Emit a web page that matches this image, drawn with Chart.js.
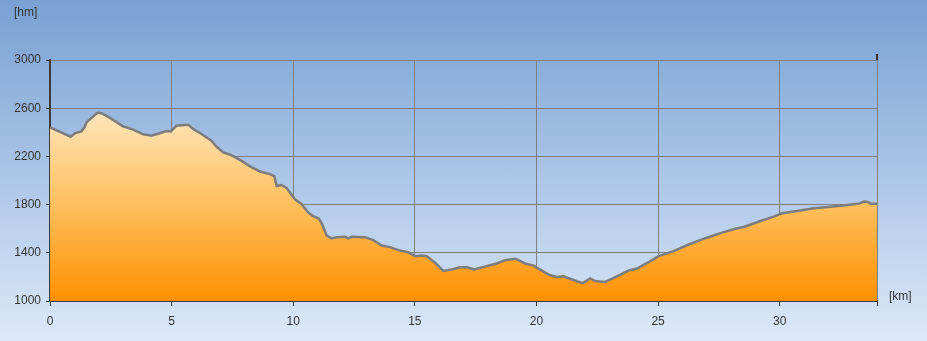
<!DOCTYPE html>
<html>
<head>
<meta charset="utf-8">
<script src="https://cdn.jsdelivr.net/npm/chart.js@4"></script>
<style>
  html, body { margin: 0; padding: 0; }
  body { width: 927px; height: 341px; background: linear-gradient(#78a0d3, #dce9f9); overflow: hidden; }
  #wrap { width: 927px; height: 341px; }
</style>
</head>
<body>
<div id="wrap"><canvas id="profile"></canvas></div>
<script>
// distance along the route [km]
const km = [
  0.00, 0.85, 1.04, 1.29, 1.43, 1.50, 1.70, 1.95, 2.12, 2.53,
  3.00, 3.42, 3.83, 4.17, 4.51, 4.79, 4.97, 5.20, 5.54, 5.70,
  5.88, 6.23, 6.64, 6.85, 7.12, 7.47, 7.88, 8.22, 8.63, 9.04,
  9.22, 9.32, 9.52, 9.73, 10.07, 10.35, 10.62, 10.82, 11.06, 11.19,
  11.37, 11.58, 11.79, 12.13, 12.26, 12.40, 12.95, 13.29, 13.64, 13.98,
  14.32, 14.73, 15.01, 15.28, 15.49, 15.83, 16.17, 16.52, 16.86, 17.14,
  17.45, 17.82, 18.37, 18.71, 19.12, 19.26, 19.53, 19.88, 20.15, 20.56,
  20.84, 21.11, 21.66, 21.91, 22.21, 22.41, 22.82, 23.31, 23.79, 24.13,
  24.61, 25.02, 25.64, 26.26, 26.81, 27.22, 27.63, 28.18, 28.52, 29.21,
  29.75, 30.10, 30.72, 31.40, 32.09, 32.77, 33.26, 33.47, 33.61, 33.75,
  34.00
];

// elevation [hm axis, metres]
const elevation = [
  2440, 2363, 2394, 2408, 2445, 2483, 2519, 2562, 2558, 2511,
  2450, 2422, 2383, 2372, 2392, 2411, 2408, 2455, 2461, 2461,
  2428, 2386, 2330, 2280, 2233, 2208, 2163, 2117, 2075, 2053,
  2036, 1955, 1963, 1936, 1844, 1803, 1733, 1705, 1683, 1636,
  1544, 1519, 1530, 1533, 1519, 1533, 1530, 1505, 1461, 1447,
  1422, 1405, 1372, 1378, 1372, 1317, 1250, 1261, 1280, 1280,
  1261, 1283, 1311, 1339, 1350, 1339, 1311, 1294, 1261, 1214,
  1200, 1205, 1164, 1148, 1188, 1165, 1158, 1205, 1253, 1269,
  1322, 1372, 1414, 1469, 1511, 1539, 1567, 1600, 1614, 1664,
  1700, 1728, 1747, 1769, 1783, 1797, 1808, 1825, 1822, 1808,
  1808
];

const xTicks = [0, 5, 10, 15, 20, 25, 30];
const yTicks = [1000, 1400, 1800, 2200, 2600, 3000];

const points = km.map((x, i) => ({ x: x, y: elevation[i] }));

const textColor = "#333333";
const font = { family: "'Liberation Sans', Arial, sans-serif", size: 12 };

// unit labels and the small tick above the right edge
const extras = {
  id: "extras",
  afterDraw(chart) {
    const ctx = chart.ctx;
    const area = chart.chartArea;
    ctx.save();
    ctx.strokeStyle = "#333333";
    ctx.lineWidth = 2;
    ctx.beginPath();
    ctx.moveTo(chart.scales.x.right, area.top - 6);
    ctx.lineTo(chart.scales.x.right, area.top);
    ctx.stroke();
    ctx.fillStyle = textColor;
    ctx.font = "12px 'Liberation Sans', Arial, sans-serif";
    ctx.textBaseline = "middle";
    ctx.textAlign = "left";
    ctx.fillText("[hm]", 14, 13);
    ctx.fillText("[km]", area.right + 12, area.bottom - 4);
    ctx.restore();
  },
};

new Chart(document.getElementById("profile"), {
  type: "line",
  data: {
    datasets: [{
      data: points,
      borderColor: "#7d7d7d",
      borderWidth: 2.5,
      pointRadius: 0,
      tension: 0,
      fill: "start",
      backgroundColor(context) {
        const area = context.chart.chartArea;
        if (!area) return "#ffc060";
        const g = context.chart.ctx.createLinearGradient(0, area.top, 0, area.bottom);
        g.addColorStop(0, "#fff2dc");
        g.addColorStop(0.25, "#ffe2b2");
        g.addColorStop(0.6, "#ffbf5e");
        g.addColorStop(1, "#ff9000");
        return g;
      },
    }],
  },
  options: {
    responsive: true,
    maintainAspectRatio: false,
    animation: false,
    layout: { padding: { top: 60, right: 50, left: 0, bottom: 0 } },
    plugins: { legend: { display: false }, tooltip: { enabled: false } },
    scales: {
      x: {
        type: "linear",
        min: 0,
        max: 34,
        afterFit(scale) { scale.height = 40; },
        afterBuildTicks(scale) {
          scale.ticks = xTicks.map(v => ({ value: v })).concat([{ value: 34 }]);
        },
        ticks: {
          color: textColor,
          font: font,
          padding: 8,
          maxRotation: 0,
          autoSkip: false,
          callback: v => (xTicks.includes(v) ? String(v) : ""),
        },
        grid: { color: "#808080", lineWidth: 1, tickLength: 5, tickColor: "#333333", tickWidth: 1 },
        border: { color: "#3c3c3c", width: 2 },
      },
      y: {
        min: 1000,
        max: 3000,
        afterFit(scale) { scale.width = 50; },
        afterBuildTicks(scale) {
          scale.ticks = yTicks.map(v => ({ value: v }));
        },
        ticks: { color: textColor, font: font, padding: 5, autoSkip: false, callback: v => String(v) },
        grid: { color: "#808080", lineWidth: 1, tickLength: 4, tickColor: "#333333", tickWidth: 1 },
        border: { color: "#3c3c3c", width: 2 },
      },
    },
  },
  plugins: [extras],
});
</script>
</body>
</html>
